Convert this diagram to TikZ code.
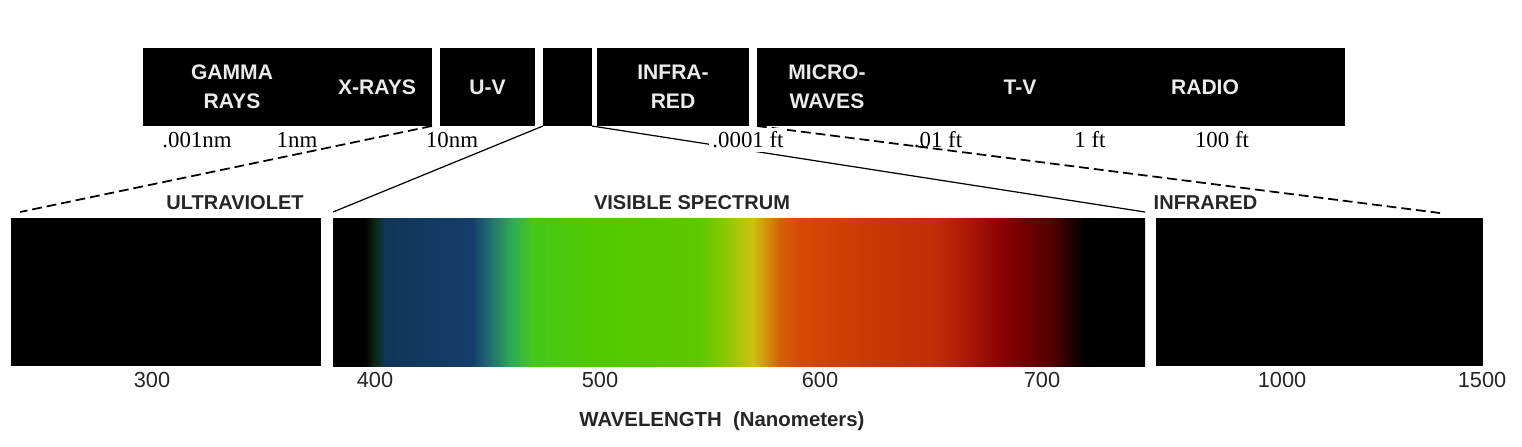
\documentclass[tikz,border=0pt]{standalone}
\usepackage{fontspec}
\setmainfont{Liberation Sans}
\newfontfamily\tickserif{Liberation Serif}
\usetikzlibrary{positioning}
\definecolor{spdark}{HTML}{0A2A14}
\definecolor{spnavy}{HTML}{103658}
\definecolor{spblue}{HTML}{143E6A}
\definecolor{spslate}{HTML}{1A5A6E}
\definecolor{spteal}{HTML}{1F7A6A}
\definecolor{spsea}{HTML}{30AE50}
\definecolor{spgreen}{HTML}{46C81A}
\definecolor{splime}{HTML}{52C800}
\definecolor{splime2}{HTML}{5CC800}
\definecolor{spchart}{HTML}{90C800}
\definecolor{spyellow}{HTML}{D0C010}
\definecolor{spamber}{HTML}{D86008}
\definecolor{sporange}{HTML}{D44A04}
\definecolor{sprust}{HTML}{C83A04}
\definecolor{spred}{HTML}{C02C08}
\definecolor{spcrimson}{HTML}{A01008}
\definecolor{spmaroon}{HTML}{8A0000}
\definecolor{spdeep}{HTML}{500000}
\pgfdeclarehorizontalshading{visiblespec}{100bp}{color(0bp)=(black); color(26.95bp)=(black);
  color(27.6bp)=(spdark); color(28.2bp)=(spnavy); color(33.6bp)=(spblue);
  color(34.2bp)=(spslate); color(34.85bp)=(spteal); color(36.1bp)=(spsea);
  color(37.3bp)=(spgreen); color(41.45bp)=(splime); color(47.6bp)=(splime2);
  color(49.25bp)=(spchart); color(50.85bp)=(spyellow); color(52.5bp)=(spamber);
  color(53.75bp)=(sporange); color(57.9bp)=(sprust); color(62.2bp)=(spred);
  color(64.85bp)=(spcrimson); color(66.25bp)=(spmaroon); color(69.35bp)=(spdeep);
  color(71.2bp)=(black); color(100bp)=(black)}
\tikzstyle{band} = [fill=black, inner sep=0pt, outer sep=0pt, minimum height=0.78cm]
\tikzstyle{bandtext} = [text=white!92!black, font=\bfseries\fontsize{6}{8.2}\selectfont, align=center]
\tikzstyle{scalelabel} = [font=\tickserif\fontsize{6.5}{7}\selectfont, inner sep=1pt]
\tikzstyle{region} = [inner sep=0pt, outer sep=0pt, minimum height=1.48cm]
\tikzstyle{regionlabel} = [font=\bfseries\fontsize{5.7}{6}\selectfont, text=black!85]
\tikzstyle{nmlabel} = [font=\fontsize{6.2}{7}\selectfont, text=black!85]
\tikzstyle{dashedlink} = [line width=0.5pt, dash pattern=on 2.8pt off 1.4pt]
\tikzstyle{solidlink} = [line width=0.35pt]

\begin{document}
\begin{tikzpicture}
  \fill[white] (0,0) rectangle (15.22,4.46);
  % Bands
  \node (gammaxray) [band, minimum width=2.89cm] at (2.875,3.59) {};
  \node (uvband) [band, minimum width=0.95cm, right=0.08cm of gammaxray] {};
  \node (visband) [band, minimum width=0.49cm, right=0.08cm of uvband] {};
  \node (irband) [band, minimum width=1.52cm, right=0.05cm of visband] {};
  \node (radioband) [band, minimum width=5.88cm, right=0.08cm of irband] {};

  % Band names
  \node (gamma) [bandtext] at (2.32,3.59) {GAMMA\\RAYS};
  \node (xrays) [bandtext] at (3.77,3.59) {X-RAYS};
  \node (uv) [bandtext] at (uvband) {U-V};
  \node (infrared1) [bandtext] at (irband) {INFRA-\\RED};
  \node (micro) [bandtext] at (8.27,3.59) {MICRO-\\WAVES};
  \node (tv) [bandtext] at (10.20,3.59) {T-V};
  \node (radio) [bandtext] at (12.05,3.59) {RADIO};

  % Regions
  \node (ultraviolet) [region, fill=black, minimum width=3.10cm] at (1.66,1.54) {};
  \node (visible) [region, shade, shading=visiblespec, minimum width=8.12cm, right=0.12cm of ultraviolet] {};
  \node (infrared) [region, fill=black, minimum width=3.27cm, right=0.11cm of visible] {};

  % Lines
  \coordinate (uvcorner) at (0.20,2.34);
  \coordinate (ircorner) at (14.40,2.33);
  \coordinate (visleft) at ([yshift=0.06cm]visible.north west);
  \coordinate (visright) at ([yshift=0.06cm]visible.north east);
  \draw[dashedlink] (gammaxray.south east) -- (uvcorner);
  \draw[dashedlink] (radioband.south west) -- (ircorner);
  \draw[solidlink] (visband.south west) -- (visleft);
  \draw[solidlink] (visband.south east) -- (visright);

  % Scale
  \node (nm001) [scalelabel] at (1.97,3.06) {.001nm};
  \node (nm1) [scalelabel] at (2.97,3.06) {1nm};
  \node (nm10) [scalelabel] at (4.52,3.06) {10nm};
  \node (ft0001) [scalelabel, fill=white] at (7.48,3.06) {.0001 ft};
  \node (ft01) [scalelabel] at (9.38,3.06) {.01 ft};
  \node (ft1) [scalelabel] at (10.90,3.06) {1 ft};
  \node (ft100) [scalelabel] at (12.22,3.06) {100 ft};

  % Region names
  \node (uvname) [regionlabel] at (2.35,2.43) {ULTRAVIOLET};
  \node (visname) [regionlabel] at (6.92,2.43) {VISIBLE SPECTRUM};
  \node (irname) [regionlabel, anchor=west, inner sep=0pt] at (11.53,2.43) {INFRARED};

  % Wavelengths
  \node (w300) [nmlabel] at (1.52,0.66) {300};
  \node (w400) [nmlabel] at (3.75,0.66) {400};
  \node (w500) [nmlabel] at (6.00,0.66) {500};
  \node (w600) [nmlabel] at (8.20,0.66) {600};
  \node (w700) [nmlabel] at (10.42,0.66) {700};
  \node (w1000) [nmlabel] at (12.82,0.66) {1000};
  \node (w1500) [nmlabel] at (14.82,0.66) {1500};
  \node (wavelength) [regionlabel, font=\bfseries\fontsize{5.8}{6}\selectfont] at (7.22,0.25) {WAVELENGTH\ \ (Nanometers)};
\end{tikzpicture}
\end{document}
